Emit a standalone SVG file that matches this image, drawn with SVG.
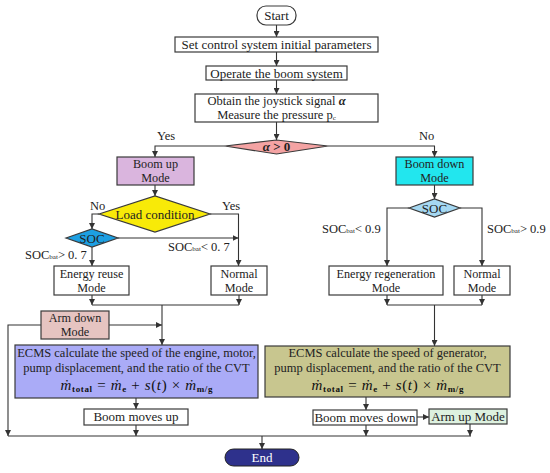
<svg xmlns="http://www.w3.org/2000/svg" width="550" height="473" viewBox="0 0 550 473">
<defs>
<marker id="ah" viewBox="0 0 10 10" refX="10" refY="5" markerWidth="6" markerHeight="6" markerUnits="userSpaceOnUse" orient="auto">
<path d="M0,0 L10,5 L0,10 z" fill="#333"/>
</marker>
<style>
.b{stroke:#3a3a3a;stroke-width:1.2;fill:#fff}
.t{font-family:"Liberation Serif","Times New Roman",serif;font-size:13px;fill:#222;text-anchor:middle}
.e{font-size:12.5px}
.d{font-size:12.2px}
.l{font-family:"Liberation Serif","Times New Roman",serif;font-size:12.5px;fill:#222}
.c{stroke:#333;stroke-width:1.1;fill:none}
.a{marker-end:url(#ah)}
.m{font-family:"Liberation Serif","Times New Roman",serif;font-size:15px;fill:#111;text-anchor:middle}
.s{font-size:7px}
</style>
</defs>
<g id="connectors">
<path class="c a" d="M276.5,25 V37"/>
<path class="c a" d="M276.5,52 V66"/>
<path class="c a" d="M276.5,80 V94"/>
<path class="c a" d="M276.5,122 V140"/>
<path class="c a" d="M225,146 H155 V157"/>
<path class="c a" d="M328,146 H434.5 V157"/>
<path class="c a" d="M155,185 V196"/>
<path class="c a" d="M210,214 H238.5 V266"/>
<path class="c a" d="M99,214 H92 V229"/>
<path class="c a" d="M118,238 H238.5"/>
<path class="c a" d="M92,247 V266"/>
<path class="c a" d="M92,295 V305"/>
<path class="c a" d="M239,295 V305"/>
<path class="c" d="M92,305 H239"/>
<path class="c a" d="M162,305 V345"/>
<path class="c a" d="M109,325 H162"/>
<path class="c a" d="M41,325 H8 V436"/>
<path class="c a" d="M136,398 V409"/>
<path class="c a" d="M136,425 V436"/>
<path class="c" d="M8,436 H471"/>
<path class="c a" d="M262,436 V449"/>
<path class="c a" d="M434.5,185 V199"/>
<path class="c a" d="M409,208 H387 V266"/>
<path class="c a" d="M460,208 H482 V266"/>
<path class="c a" d="M387,295 V305"/>
<path class="c a" d="M482,295 V305"/>
<path class="c" d="M387,305 H482"/>
<path class="c a" d="M434.5,305 V346"/>
<path class="c a" d="M366,397 V410"/>
<path class="c a" d="M366,425 V436"/>
<path class="c a" d="M417,417 H429"/>
<path class="c a" d="M470,424 V436"/>
</g>
<g id="labels">
<text class="l" x="157" y="140">Yes</text>
<text class="l" x="419" y="140">No</text>
<text class="l" x="90" y="210">No</text>
<text class="l" x="222" y="210">Yes</text>
<text class="l" x="25" y="259">SOC<tspan class="s">bat</tspan>&gt; 0. 7</text>
<text class="l" x="168" y="251">SOC<tspan class="s">bat</tspan>&lt; 0. 7</text>
<text class="l" x="322" y="233">SOC<tspan class="s">bat</tspan>&lt; 0.9</text>
<text class="l" x="487" y="233">SOC<tspan class="s">bat</tspan>&gt; 0.9</text>
</g>
<g id="start">
<rect class="b" x="257" y="6" width="39" height="19" rx="9"/>
<text class="t" x="276.5" y="20">Start</text>
</g>
<g id="init">
<rect class="b" x="175" y="37" width="203" height="15"/>
<text class="t" x="276.5" y="48.5">Set control system initial parameters</text>
</g>
<g id="operate">
<rect class="b" x="206" y="66" width="141" height="14"/>
<text class="t" x="276.5" y="77.5">Operate the boom system</text>
</g>
<g id="obtain">
<rect class="b" x="195" y="94" width="183" height="28"/>
<text class="t e" x="276.5" y="104.5">Obtain the joystick signal <tspan font-style="italic" font-weight="bold">α</tspan></text>
<text class="t e" x="276.5" y="119">Measure the pressure p<tspan class="s" dy="1">c</tspan></text>
</g>
<g id="alpha">
<polygon class="b" points="225,146 276.5,140 328,146 276.5,154" style="fill:#f4a3a3"/>
<text class="t" x="276.5" y="151" font-weight="bold"><tspan font-style="italic">α</tspan> &gt; 0</text>
</g>
<g id="boomup">
<rect class="b" x="117" y="157" width="77" height="28" style="fill:#dab5de"/>
<text class="t d" x="155.5" y="168">Boom up</text>
<text class="t d" x="155.5" y="182">Mode</text>
</g>
<g id="boomdown">
<rect class="b" x="396" y="157" width="77" height="28" style="fill:#22e6ee"/>
<text class="t d" x="434.5" y="168">Boom down</text>
<text class="t d" x="434.5" y="182">Mode</text>
</g>
<g id="load">
<polygon class="b" points="99,214 155,196 210,214 155,232" style="fill:#f8ea08"/>
<text class="t" x="155" y="218.5">Load condition</text>
</g>
<g id="soc-left">
<polygon class="b" points="66,238 92,229 118,238 92,247" style="fill:#1d9fe2"/>
<text class="t" x="92" y="242.5">SOC</text>
</g>
<g id="soc-right">
<polygon class="b" points="409,208 434.5,199 460,208 434.5,217" style="fill:#a5d8f2"/>
<text class="t" x="434.5" y="212.5">SOC</text>
</g>
<g id="reuse">
<rect class="b" x="54" y="266" width="75" height="29"/>
<text class="t d" x="91.5" y="277.5">Energy reuse</text>
<text class="t d" x="91.5" y="291.5">Mode</text>
</g>
<g id="normal-left">
<rect class="b" x="211" y="266" width="56" height="29"/>
<text class="t d" x="239" y="277.5">Normal</text>
<text class="t d" x="239" y="291.5">Mode</text>
</g>
<g id="regen">
<rect class="b" x="329" y="266" width="114" height="29"/>
<text class="t d" x="386" y="277.5">Energy regeneration</text>
<text class="t d" x="386" y="291.5">Mode</text>
</g>
<g id="normal-right">
<rect class="b" x="454" y="266" width="56" height="29"/>
<text class="t d" x="482" y="277.5">Normal</text>
<text class="t d" x="482" y="291.5">Mode</text>
</g>
<g id="armdown">
<rect class="b" x="41" y="311" width="68" height="28" style="fill:#e6c4c1"/>
<text class="t d" x="75" y="322">Arm down</text>
<text class="t d" x="75" y="336">Mode</text>
</g>
<g id="ecms-left">
<rect class="b" x="15" y="345" width="243" height="53" style="fill:#aaabf7"/>
<text class="t e" x="136.5" y="356.5">ECMS calculate the speed of the engine, motor,</text>
<text class="t e" x="136.5" y="372">pump displacement, and the ratio of the CVT</text>
<text class="m" x="136.5" y="390" textLength="152" lengthAdjust="spacing"><tspan font-style="italic">ṁ</tspan><tspan font-size="9" font-weight="bold" dy="2">total</tspan><tspan dy="-2"> = </tspan><tspan font-style="italic">ṁ</tspan><tspan font-size="9" font-weight="bold" dy="2">e</tspan><tspan dy="-2"> + </tspan><tspan font-style="italic">s</tspan>(<tspan font-style="italic">t</tspan>) × <tspan font-style="italic">ṁ</tspan><tspan font-size="9" font-weight="bold" dy="2">m/g</tspan></text>
</g>
<g id="ecms-right">
<rect class="b" x="265" y="346" width="245" height="51" style="fill:#c8c68f"/>
<text class="t e" x="387.5" y="357">ECMS calculate the speed of generator,</text>
<text class="t e" x="387.5" y="372">pump displacement, and the ratio of the CVT</text>
<text class="m" x="387.5" y="390" textLength="152" lengthAdjust="spacing"><tspan font-style="italic">ṁ</tspan><tspan font-size="9" font-weight="bold" dy="2">total</tspan><tspan dy="-2"> = </tspan><tspan font-style="italic">ṁ</tspan><tspan font-size="9" font-weight="bold" dy="2">e</tspan><tspan dy="-2"> + </tspan><tspan font-style="italic">s</tspan>(<tspan font-style="italic">t</tspan>) × <tspan font-style="italic">ṁ</tspan><tspan font-size="9" font-weight="bold" dy="2">m/g</tspan></text>
</g>
<g id="boomup-move">
<rect class="b" x="84" y="409" width="104" height="16"/>
<text class="t" x="136" y="421">Boom moves up</text>
</g>
<g id="boomdown-move">
<rect class="b" x="313" y="410" width="104" height="15"/>
<text class="t" x="365" y="421.5">Boom moves down</text>
</g>
<g id="armup">
<rect class="b" x="429" y="409" width="78" height="15" style="fill:#ddf1df"/>
<text class="t" x="468" y="420.5">Arm up Mode</text>
</g>
<g id="end">
<rect x="225" y="449" width="74" height="17" rx="8.5" fill="#2e318c" stroke="#222" stroke-width="1"/>
<text class="t" x="262" y="461.5" style="fill:#fff">End</text>
</g>
</svg>
